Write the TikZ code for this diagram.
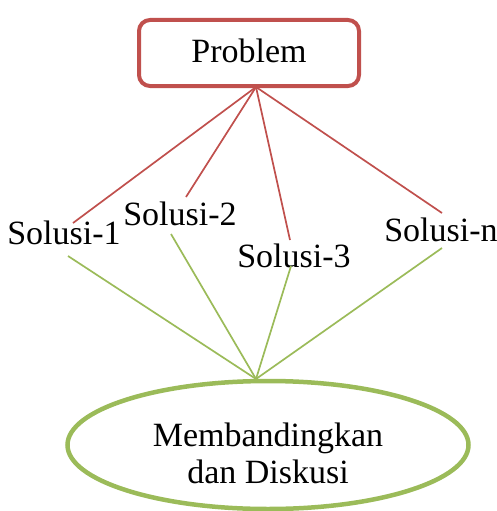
\documentclass[tikz,border=0pt]{standalone}
\usepackage{fontspec}
\setmainfont{Liberation Serif}
\usetikzlibrary{shapes.geometric}
\definecolor{probred}{HTML}{C0504D}
\definecolor{solgreen}{HTML}{9BBB59}
\begin{document}
\begin{tikzpicture}[x=1pt,y=-1pt,
  lbl/.style={font=\fontsize{34}{37}\selectfont, inner sep=0pt, anchor=base},
  redline/.style={draw=probred, line width=1.7pt},
  greenline/.style={draw=solgreen, line width=1.7pt}]
\useasboundingbox (0,0) rectangle (497,511);
\node[draw=probred, line width=4pt, rounded corners=11pt, minimum width=220pt, minimum height=66pt, inner sep=0pt] (prob) at (249,53) {};
\node[lbl] (probtext) at (249,63) {Problem};
\node[draw=solgreen, line width=4.5pt, ellipse, minimum width=401pt, minimum height=128pt, inner sep=0pt] (comp) at (268,445) {};
\node[font=\fontsize{34}{37}\selectfont, align=center, inner sep=0pt] (comptext) at (268,453) {Membandingkan\\dan Diskusi};
\node[lbl] (s1) at (64,244) {Solusi-1};
\node[lbl] (s2) at (180,225) {Solusi-2};
\node[lbl] (s3) at (294,267) {Solusi-3};
\node[lbl] (sn) at (441,241) {Solusi-n};
\coordinate (ptop) at (256,87);
\coordinate (ctop) at (256,379);
\coordinate (s1t) at (73,223);
\coordinate (s2t) at (186,197);
\coordinate (s3t) at (290,240);
\coordinate (snt) at (442,213);
\coordinate (s1b) at (68,256);
\coordinate (s2b) at (171,234);
\coordinate (s3b) at (291,266);
\coordinate (snb) at (442,248);
\draw[redline] (ptop) -- (s1t);
\draw[redline] (ptop) -- (s2t);
\draw[redline] (ptop) -- (s3t);
\draw[redline] (ptop) -- (snt);
\draw[greenline] (s1b) -- (ctop);
\draw[greenline] (s2b) -- (ctop);
\draw[greenline] (s3b) -- (ctop);
\draw[greenline] (snb) -- (ctop);
\end{tikzpicture}
\end{document}
